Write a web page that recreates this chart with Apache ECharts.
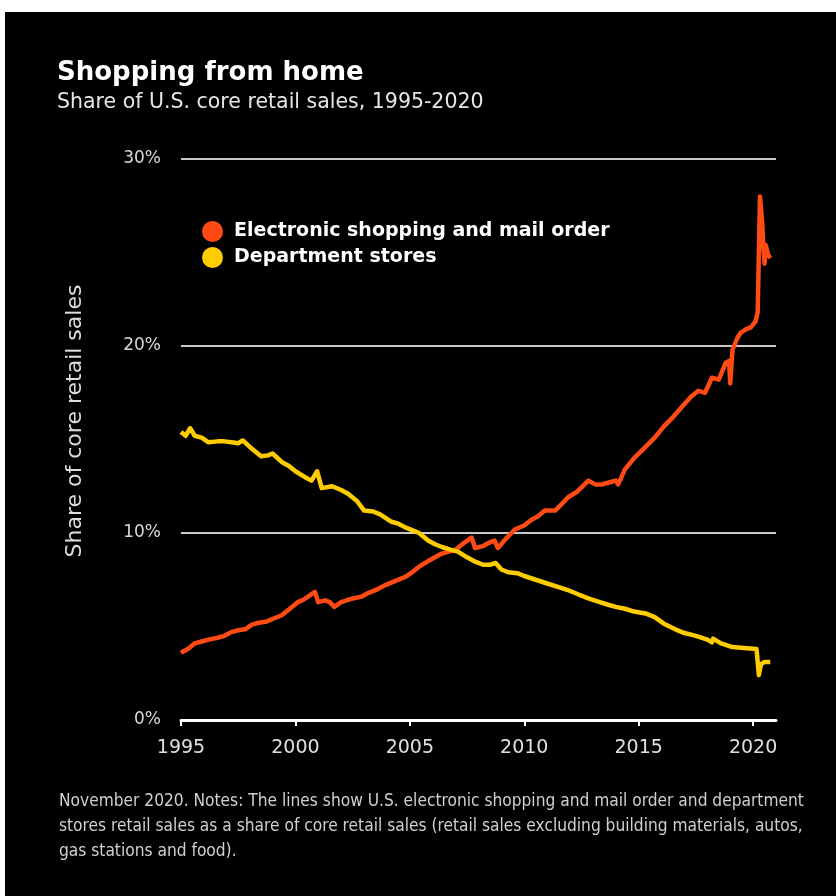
<!DOCTYPE html>
<html>
<head>
<meta charset="utf-8">
<title>Shopping from home</title>
<script src="https://cdn.jsdelivr.net/npm/echarts@6/dist/echarts.min.js"></script>
<style>
  html, body { margin: 0; padding: 0; background: #ffffff; }
  #chart { position: absolute; left: 5px; top: 12px; width: 831px; height: 884px; background: #000; }
</style>
</head>
<body>
<div id="chart"></div>
<script>
// electronic shopping and mail order, share of core retail sales (%)
var ecomYears = [1995.0, 1995.3, 1995.6, 1995.9, 1996.2, 1996.6, 1996.9, 1997.2, 1997.5, 1997.8,
    1998.1, 1998.4, 1998.7, 1999.0, 1999.4, 1999.7, 2000.1, 2000.3, 2000.55, 2000.85,
    2001.0, 2001.3, 2001.5, 2001.7, 2002.0, 2002.5, 2002.9, 2003.2, 2003.6, 2003.9,
    2004.4, 2004.8, 2005.1, 2005.4, 2005.8, 2006.1, 2006.4, 2006.7, 2007.0, 2007.4,
    2007.7, 2007.85, 2008.2, 2008.5, 2008.7, 2008.85, 2009.2, 2009.6, 2010.0, 2010.3,
    2010.6, 2010.9, 2011.35, 2011.6, 2011.9, 2012.3, 2012.8, 2013.1, 2013.4, 2013.7,
    2014.0, 2014.1, 2014.4, 2014.8, 2015.3, 2015.7, 2016.1, 2016.5, 2017.0, 2017.3,
    2017.6, 2017.9, 2018.2, 2018.5, 2018.8, 2018.95, 2019.0, 2019.1, 2019.3, 2019.45,
    2019.7, 2019.9, 2020.1, 2020.2, 2020.3, 2020.4, 2020.45, 2020.5, 2020.55, 2020.65, 2020.75];
var ecomShare = [3.6, 3.8, 4.1, 4.2, 4.3, 4.4, 4.5, 4.7, 4.8, 4.85,
    5.1, 5.2, 5.25, 5.4, 5.6, 5.9, 6.3, 6.4, 6.6, 6.85,
    6.3, 6.4, 6.3, 6.05, 6.3, 6.5, 6.6, 6.8, 7.0, 7.2,
    7.45, 7.65, 7.9, 8.2, 8.5, 8.7, 8.9, 9.0, 9.1, 9.5,
    9.75, 9.2, 9.3, 9.5, 9.6, 9.2, 9.7, 10.2, 10.4, 10.7,
    10.9, 11.2, 11.2, 11.5, 11.9, 12.2, 12.8, 12.6, 12.6, 12.7,
    12.8, 12.6, 13.4, 14.0, 14.6, 15.1, 15.7, 16.2, 16.9, 17.3,
    17.6, 17.5, 18.3, 18.2, 19.1, 19.2, 18.0, 19.8, 20.4, 20.7,
    20.9, 21.0, 21.3, 21.8, 28.0, 26.5, 25.3, 24.4, 25.4, 24.9, 24.7];

// department stores, share of core retail sales (%)
var deptYears = [1995.0, 1995.2, 1995.4, 1995.6, 1995.9, 1996.2, 1996.6, 1996.9, 1997.2, 1997.5,
    1997.7, 1998.1, 1998.5, 1998.8, 1999.0, 1999.4, 1999.7, 2000.0, 2000.4, 2000.7,
    2000.95, 2001.15, 2001.6, 2002.0, 2002.3, 2002.7, 2003.0, 2003.4, 2003.7, 2004.2,
    2004.5, 2004.8, 2005.1, 2005.4, 2005.8, 2006.1, 2006.4, 2006.8, 2007.1, 2007.5,
    2007.8, 2008.2, 2008.5, 2008.75, 2009.0, 2009.3, 2009.7, 2010.0, 2010.5, 2011.0,
    2011.5, 2011.9, 2012.4, 2012.8, 2013.3, 2013.7, 2014.0, 2014.4, 2014.8, 2015.3,
    2015.7, 2016.1, 2016.6, 2017.0, 2017.5, 2018.0, 2018.2, 2018.25, 2018.6, 2019.1,
    2019.6, 2020.15, 2020.25, 2020.35, 2020.5, 2020.75];
var deptShare = [15.4, 15.2, 15.6, 15.2, 15.1, 14.85, 14.9, 14.9, 14.85, 14.8,
    14.95, 14.5, 14.1, 14.15, 14.25, 13.8, 13.6, 13.3, 13.0, 12.8,
    13.3, 12.4, 12.5, 12.3, 12.1, 11.7, 11.2, 11.15, 11.0, 10.6,
    10.5, 10.3, 10.15, 10.0, 9.6, 9.4, 9.25, 9.1, 9.0, 8.7,
    8.5, 8.3, 8.3, 8.4, 8.05, 7.9, 7.85, 7.7, 7.5, 7.3,
    7.1, 6.95, 6.7, 6.5, 6.3, 6.15, 6.05, 5.95, 5.8, 5.7,
    5.5, 5.15, 4.85, 4.65, 4.5, 4.3, 4.15, 4.35, 4.1, 3.9,
    3.85, 3.8, 2.4, 3.0, 3.1, 3.1];

var xTicks = [1995, 2000, 2005, 2010, 2015, 2020];

var seriesNames = ['Electronic shopping and mail order', 'Department stores'];
var seriesColors = ['#ff4a14', '#ffcc00'];

var noteLines = [
    'November 2020. Notes: The lines show U.S. electronic shopping and mail order and department',
    'stores retail sales as a share of core retail sales (retail sales excluding building materials, autos,',
    'gas stations and food).'
];

function pairs(xs, ys) {
    var out = [];
    for (var i = 0; i < xs.length; i++) {
        out.push([xs[i], ys[i]]);
    }
    return out;
}

function get_option() {
    var font = 'DejaVu Sans';
    var graphics = [
        {
            type: 'text', x: 52, y: 61,
            style: { text: 'Shopping from home', fill: '#ffffff', font: 'bold 26px "DejaVu Sans"', textVerticalAlign: 'middle' }
        },
        {
            type: 'text', x: 52, y: 91,
            style: { text: 'Share of U.S. core retail sales, 1995-2020', fill: '#e6e6e6', font: '20.5px "DejaVu Sans"', textVerticalAlign: 'middle' }
        },
        {
            type: 'text', x: 70, y: 409, rotation: Math.PI / 2,
            style: { text: 'Share of core retail sales', fill: '#dddddd', font: '22px "DejaVu Sans"', textAlign: 'center', textVerticalAlign: 'middle' }
        }
    ];
    for (var i = 0; i < noteLines.length; i++) {
        graphics.push({
            type: 'text', x: 54, y: 790 + i * 25,
            style: { text: noteLines[i], fill: '#d0d0d0', font: '17.2px "DejaVu Sans Condensed"', textVerticalAlign: 'middle' }
        });
    }

    return {
        backgroundColor: '#000000',
        animation: false,
        textStyle: { fontFamily: font },
        graphic: graphics,
        legend: {
            data: seriesNames,
            orient: 'vertical',
            left: 192,
            top: 204,
            icon: 'circle',
            itemWidth: 21,
            itemHeight: 21,
            itemGap: 5,
            textStyle: { color: '#ffffff', fontWeight: 'bold', fontSize: 19, fontFamily: font, padding: [0, 0, 0, 6] }
        },
        grid: { left: 176, right: 60, top: 147, bottom: 176 },
        xAxis: {
            type: 'value',
            min: 1995,
            max: 2021,
            interval: 5,
            axisLine: { show: true, lineStyle: { color: '#ffffff', width: 3 } },
            axisTick: { show: true, length: 6, lineStyle: { color: '#ffffff', width: 2 }, customValues: xTicks },
            axisLabel: {
                color: '#e0e0e0', fontSize: 19, margin: 19, customValues: xTicks,
                formatter: function (v) { return String(v); }
            },
            splitLine: { show: false }
        },
        yAxis: {
            type: 'value',
            min: 0,
            max: 30,
            interval: 10,
            axisLine: { show: false },
            axisTick: { show: false },
            axisLabel: { color: '#d8d8d8', fontSize: 17, margin: 20, formatter: '{value}%' },
            splitLine: { lineStyle: { color: '#c8c8c8', width: 2 } }
        },
        series: [
            {
                name: seriesNames[0],
                type: 'line',
                data: pairs(ecomYears, ecomShare),
                showSymbol: false,
                color: seriesColors[0],
                lineStyle: { width: 4.5, color: seriesColors[0], join: 'round' },
                z: 3
            },
            {
                name: seriesNames[1],
                type: 'line',
                data: pairs(deptYears, deptShare),
                showSymbol: false,
                color: seriesColors[1],
                lineStyle: { width: 4.5, color: seriesColors[1], join: 'round' },
                z: 4
            }
        ]
    };
}

var myChart = echarts.init(document.getElementById('chart'));
myChart.setOption(get_option());
</script>
</body>
</html>
